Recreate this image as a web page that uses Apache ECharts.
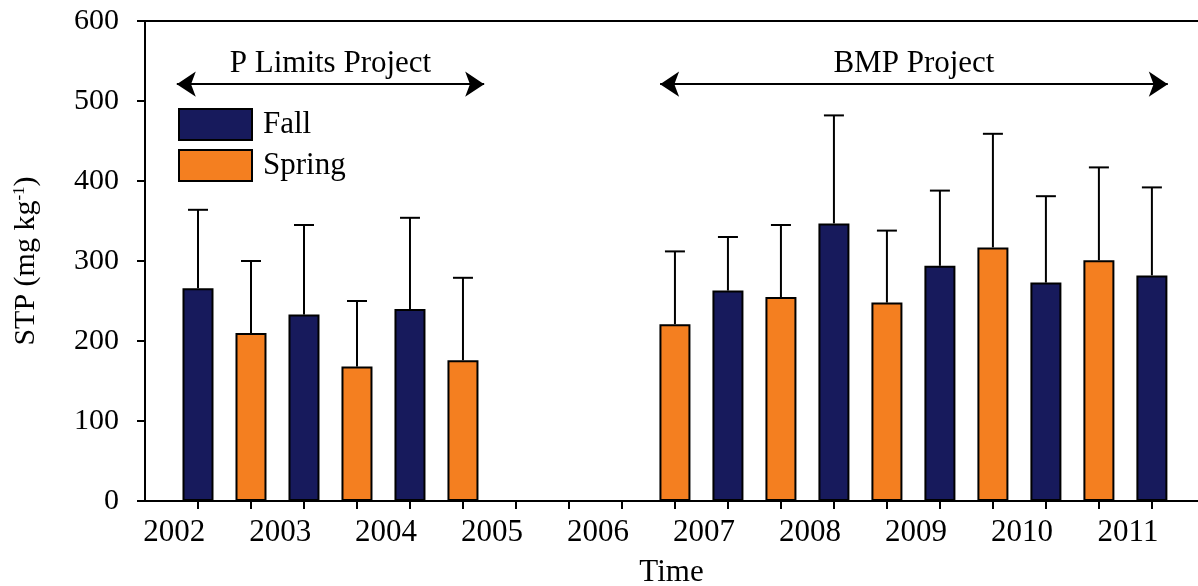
<!DOCTYPE html>
<html>
<head>
<meta charset="utf-8">
<script src="https://cdn.jsdelivr.net/npm/echarts@6/dist/echarts.min.js"></script>
<style>
html,body{margin:0;padding:0;background:#fff;overflow:hidden;}
#chart{width:1198px;height:586px;}
</style>
</head>
<body>
<div id="chart"></div>
<script>
// Half-year sampling periods (one slot each on the time axis)
const periods = ['Fall 2002','Spring 2003','Fall 2003','Spring 2004','Fall 2004','Spring 2005',
  'Fall 2005','Spring 2006','Fall 2006','Spring 2007','Fall 2007','Spring 2008','Fall 2008',
  'Spring 2009','Fall 2009','Spring 2010','Fall 2010','Spring 2011','Fall 2011'];
// Mean STP (mg kg-1); null = not sampled
const stpMean = [266, 210, 233, 168, 240, 176, null, null, null, 221, 263, 255, 347, 248, 294, 317, 273, 301, 282];
// Upper end of error bar (mean + SD)
const stpUpper = [364, 300, 345, 250, 354, 279, null, null, null, 312, 330, 345, 482, 338, 388, 459, 381, 417, 392];
// Year tick labels
const yearLabels = ['2002','2003','2004','2005','2006','2007','2008','2009','2010','2011'];
// Project annotations (start / end slot)
const projectNames = ['P Limits Project', 'BMP Project'];
const projectStart = [-0.40, 8.72];
const projectEnd = [5.40, 18.30];
const projectLevel = 521;

const FONT = 'Liberation Serif';
const fallColor = '#171a5c';
const springColor = '#f47f20';

const fallData = [], springData = [], errData = [];
periods.forEach((p, i) => {
  if (stpMean[i] == null) return;
  if (p.startsWith('Fall')) fallData.push([i, stpMean[i]]);
  else springData.push([i, stpMean[i]]);
  errData.push([i, stpMean[i], stpUpper[i]]);
});
const labelPos = yearLabels.map((y, k) => 2 * k - 0.45);
const tickPos = periods.map((p, i) => i);

const chart = echarts.init(document.getElementById('chart'), null, {renderer: 'canvas', width: 1198, height: 586});
const option = {
  animation: false,
  backgroundColor: '#fff',
  grid: {left: 145, top: 21, right: 0, height: 480, containLabel: false, outerBoundsMode: 'none'},
  legend: {
    orient: 'vertical', left: 173, top: 103, itemWidth: 73, itemHeight: 31, itemGap: 8,
    icon: 'rect',
    data: ['Fall', 'Spring'],
    textStyle: {fontFamily: FONT, fontSize: 31, color: '#000', padding: [0, 0, 0, 6]}
  },
  xAxis: [{
    type: 'value', min: -1, max: 18.87, position: 'bottom',
    axisLine: {show: true, onZero: false, lineStyle: {color: '#000', width: 2}},
    axisTick: {show: true, length: 8, lineStyle: {color: '#000', width: 2}, customValues: tickPos},
    axisLabel: {show: true, customValues: labelPos, margin: 16,
      fontFamily: FONT, fontSize: 31, color: '#000',
      formatter: v => yearLabels[Math.round((v + 0.45) / 2)]},
    splitLine: {show: false},
    name: 'Time', nameLocation: 'middle', nameGap: 56,
    nameTextStyle: {fontFamily: FONT, fontSize: 31, color: '#000'}
  }, {
    type: 'value', min: -1, max: 18.87, position: 'top',
    axisLine: {show: true, onZero: false, lineStyle: {color: '#000', width: 2}},
    axisTick: {show: false}, axisLabel: {show: false}, splitLine: {show: false}
  }],
  yAxis: {
    type: 'value', min: 0, max: 600, interval: 100,
    axisLine: {show: true, onZero: false, lineStyle: {color: '#000', width: 2}},
    axisTick: {show: true, length: 8, lineStyle: {color: '#000', width: 2}},
    axisLabel: {margin: 26, fontFamily: FONT, fontSize: 30, color: '#000',
      formatter: v => String(v)},
    splitLine: {show: false},
    name: 'STP (mg kg{sup|-1})', nameLocation: 'middle', nameGap: 104, nameRotate: 90,
    nameTextStyle: {fontFamily: FONT, fontSize: 30, color: '#000',
      rich: {sup: {fontFamily: FONT, fontSize: 17, color: '#000', verticalAlign: 'top', padding: [0, 0, 12, 0]}}}
  },
  series: [{
    name: 'Fall', type: 'bar', data: fallData, barWidth: 31, barGap: '-100%',
    itemStyle: {color: fallColor, borderColor: '#000', borderWidth: 2}
  }, {
    name: 'Spring', type: 'bar', data: springData, barWidth: 31, barGap: '-100%',
    itemStyle: {color: springColor, borderColor: '#000', borderWidth: 2}
  }, {
    name: 'err', type: 'custom', data: errData, z: 5,
    renderItem: (params, api) => {
      const x = api.value(0);
      const p0 = api.coord([x, api.value(1)]);
      const p1 = api.coord([x, api.value(2)]);
      const half = 10;
      const st = {stroke: '#000', lineWidth: 2};
      return {type: 'group', children: [
        {type: 'line', shape: {x1: p0[0], y1: p0[1], x2: p1[0], y2: p1[1]}, style: st},
        {type: 'line', shape: {x1: p1[0] - half, y1: p1[1], x2: p1[0] + half, y2: p1[1]}, style: st}
      ]};
    },
    markLine: {
      silent: true, symbol: ['arrow', 'arrow'], symbolSize: [19, 19],
      lineStyle: {color: '#000', width: 2, type: 'solid'},
      label: {show: true, position: 'insideMiddleTop', distance: 5,
        fontFamily: FONT, fontSize: 31, color: '#000', formatter: p => p.name},
      data: projectNames.map((n, k) => [
        {name: n, coord: [projectStart[k], projectLevel]},
        {coord: [projectEnd[k], projectLevel]}
      ])
    }
  }]
};
chart.setOption(option);
</script>
</body>
</html>
